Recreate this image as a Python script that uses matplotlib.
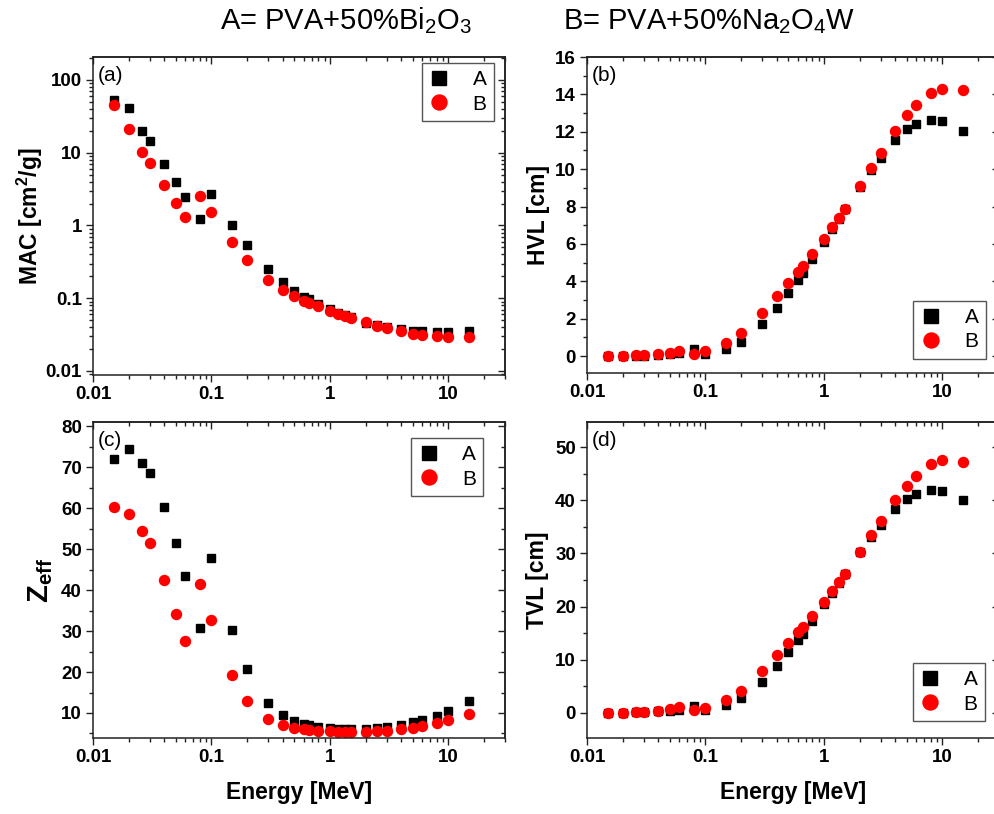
import matplotlib
matplotlib.use("Agg")
import matplotlib.pyplot as plt
from matplotlib.ticker import FuncFormatter, MultipleLocator, LogLocator, NullFormatter

plt.rcParams['font.family'] = ['Liberation Sans', 'DejaVu Sans']
plt.rcParams['mathtext.fontset'] = 'custom'
plt.rcParams['mathtext.rm'] = 'Liberation Sans'
plt.rcParams['mathtext.it'] = 'Liberation Sans:italic'
plt.rcParams['mathtext.bf'] = 'Liberation Sans:bold'

# ---- data ----
energy = [0.015, 0.02, 0.026, 0.03, 0.04, 0.05, 0.06, 0.08, 0.1, 0.15, 0.2, 0.3,
          0.4, 0.5, 0.6, 0.662, 0.8, 1.0, 1.173, 1.332, 1.5, 2.0, 2.5, 3.0, 4.0,
          5.0, 6.0, 8.0, 10.0, 15.0]

mac_A = [53, 40.8, 20.1, 14.5, 6.9, 3.92, 2.49, 1.24, 2.71, 1.02, 0.54, 0.252,
         0.166, 0.127, 0.105, 0.098, 0.084, 0.0705, 0.0634, 0.0589, 0.0547, 0.0462,
         0.0433, 0.0399, 0.0374, 0.0358, 0.0355, 0.0347, 0.0347, 0.0358]
mac_B = [45.3, 21.4, 10.3, 7.29, 3.57, 2.04, 1.32, 2.57, 1.52, 0.598, 0.336, 0.178,
         0.130, 0.107, 0.0925, 0.0869, 0.0775, 0.0674, 0.0607, 0.0575, 0.0540, 0.0467,
         0.0420, 0.0390, 0.0352, 0.0326, 0.0313, 0.0300, 0.0296, 0.0296]

hvl_A = [0.0, 0.0, 0.02, 0.02, 0.05, 0.10, 0.18, 0.36, 0.14, 0.41, 0.78, 1.71,
         2.60, 3.40, 4.08, 4.43, 5.18, 6.11, 6.82, 7.36, 7.87, 9.05, 9.97, 10.61,
         11.56, 12.13, 12.41, 12.64, 12.57, 12.02]
hvl_B = [0.0, 0.0, 0.04, 0.04, 0.09, 0.18, 0.30, 0.14, 0.25, 0.69, 1.25, 2.33,
         3.22, 3.94, 4.51, 4.83, 5.47, 6.29, 6.91, 7.41, 7.89, 9.12, 10.08, 10.85,
         12.06, 12.88, 13.45, 14.05, 14.30, 14.23]

zeff_A = [71.95, 74.4, 71.1, 68.5, 60.3, 51.5, 43.4, 30.7, 47.8, 30.3, 20.65, 12.4,
          9.5, 8.1, 7.4, 7.15, 6.6, 6.3, 6.1, 6.1, 6.0, 6.1, 6.3, 6.5, 7.15, 7.7,
          8.2, 9.35, 10.4, 12.85]
zeff_B = [60.2, 58.5, 54.5, 51.5, 42.5, 34.2, 27.6, 41.5, 32.7, 19.2, 13.0, 8.5,
          7.1, 6.4, 6.1, 5.9, 5.7, 5.5, 5.45, 5.45, 5.4, 5.45, 5.6, 5.7, 6.1, 6.35,
          6.9, 7.6, 8.3, 9.75]

tvl_A = [0.0, 0.0, 0.06, 0.06, 0.2, 0.3, 0.5, 1.26, 0.5, 1.38, 2.7, 5.8, 8.7, 11.4,
         13.6, 14.8, 17.3, 20.4, 22.6, 24.5, 26.2, 30.2, 33.2, 35.3, 38.4, 40.3,
         41.3, 42.0, 41.8, 40.0]
tvl_B = [0.0, 0.0, 0.06, 0.06, 0.3, 0.7, 1.07, 0.5, 0.88, 2.3, 4.15, 7.8, 10.8, 13.1,
         15.1, 16.2, 18.2, 20.9, 22.9, 24.6, 26.2, 30.2, 33.5, 36.1, 40.1, 42.8,
         44.7, 46.9, 47.6, 47.3]

series_labels = ['A', 'B']
panel_labels = ['(a)', '(b)', '(c)', '(d)']
ylabels = ['MAC [cm$^{\\mathbf{2}}$/g]', 'HVL [cm]', '$\\mathbf{Z_{eff}}$', 'TVL [cm]']
xlabel = 'Energy [MeV]'
title_A = 'A= PVA+50%Bi$_2$O$_3$'
title_B = 'B= PVA+50%Na$_2$O$_4$W'

W, H = 994, 814
fig = plt.figure(figsize=(W / 100, H / 100), dpi=100)

def frac(l, t, r, b):
    return [l / W, 1 - b / H, (r - l) / W, (b - t) / H]

positions = [frac(93, 57, 505, 375), frac(587, 57, 999, 373),
             frac(93, 422, 505, 738), frac(587, 422, 999, 738)]
data = [(mac_A, mac_B), (hvl_A, hvl_B), (zeff_A, zeff_B), (tvl_A, tvl_B)]
ylims = [(0.00881, 207), (-0.9, 16.0), (3.9, 81), (-4.8, 54.8)]
ymajor = [None, 2, 10, 10]
yminor = [None, 1, 5, 5]
ylabel_x = [-0.117, -0.090, -0.092, -0.092]
ylabel_fs = [16.5, 16.5, 21, 16.5]
legend_loc = ['upper right', 'lower right', 'upper right', 'lower right']
legend_anchor = [(0.973, 0.981), (0.968, 0.045), (0.947, 0.949), (0.966, 0.054)]

fmt = FuncFormatter(lambda v, p: f'{v:g}')
tick_fs = 13.5

for i in range(4):
    ax = fig.add_axes(positions[i])
    ya, yb = data[i]
    ax.plot(energy, ya, ls='none', marker='s', ms=6.3, color='black', mec='black', label=series_labels[0])
    ax.plot(energy, yb, ls='none', marker='o', ms=7.2, color='#ff0000', mec='#ff0000', label=series_labels[1])
    ax.set_xscale('log')
    ax.set_xlim(0.01, 30)
    if i == 0:
        ax.set_yscale('log')
        ax.yaxis.set_major_locator(LogLocator(base=10, numticks=10))
        ax.yaxis.set_minor_locator(LogLocator(base=10, subs=range(2, 10), numticks=20))
        ax.yaxis.set_major_formatter(fmt)
        ax.yaxis.set_minor_formatter(NullFormatter())
    else:
        ax.yaxis.set_major_locator(MultipleLocator(ymajor[i]))
        ax.yaxis.set_minor_locator(MultipleLocator(yminor[i]))
    ax.set_ylim(*ylims[i])
    ax.xaxis.set_major_locator(LogLocator(base=10, numticks=10))
    ax.xaxis.set_minor_locator(LogLocator(base=10, subs=range(2, 10), numticks=20))
    ax.xaxis.set_major_formatter(fmt)
    ax.xaxis.set_minor_formatter(NullFormatter())

    ax.tick_params(which='both', direction='out', top=False, right=False,
                   labelsize=tick_fs, width=1.0, color='#222222')
    ax.tick_params(which='major', length=5, pad=3)
    ax.tick_params(which='minor', length=3)
    for lab in ax.get_xticklabels() + ax.get_yticklabels():
        lab.set_fontweight('bold')
    for s in ax.spines.values():
        s.set_linewidth(1.1)
        s.set_color('#222222')

    # mirrored inward ticks on top and right
    secx = ax.secondary_xaxis('top')
    secx.xaxis.set_major_locator(LogLocator(base=10, numticks=10))
    secx.xaxis.set_minor_locator(LogLocator(base=10, subs=range(2, 10), numticks=20))
    secx.tick_params(which='both', direction='in', labeltop=False, width=1.0, color='#222222')
    secx.tick_params(which='major', length=5)
    secx.tick_params(which='minor', length=3)
    secx.spines['top'].set_linewidth(1.1)
    secx.spines['top'].set_color('#222222')
    secy = ax.secondary_yaxis('right')
    if i == 0:
        secy.yaxis.set_major_locator(LogLocator(base=10, numticks=10))
        secy.yaxis.set_minor_locator(LogLocator(base=10, subs=range(2, 10), numticks=20))
    else:
        secy.yaxis.set_major_locator(MultipleLocator(ymajor[i]))
        secy.yaxis.set_minor_locator(MultipleLocator(yminor[i]))
    secy.tick_params(which='both', direction='in', labelright=False, width=1.0, color='#222222')
    secy.tick_params(which='major', length=5)
    secy.tick_params(which='minor', length=3)
    secy.spines['right'].set_linewidth(1.1)
    secy.spines['right'].set_color('#222222')

    ax.set_ylabel(ylabels[i], fontsize=ylabel_fs[i], fontweight='bold')
    ax.yaxis.set_label_coords(ylabel_x[i], 0.5)
    if i >= 2:
        ax.set_xlabel(xlabel, fontsize=16.5, fontweight='bold')
        ax.xaxis.set_label_coords(0.5, -0.135)

    ax.text(0.012, 0.943, panel_labels[i], transform=ax.transAxes, fontsize=15,
            ha='left', va='center')

    leg = ax.legend(loc=legend_loc[i], bbox_to_anchor=legend_anchor[i], borderaxespad=0,
                    fontsize=15, markerscale=1.5, handlelength=1.0, handletextpad=1.1,
                    borderpad=0.35, labelspacing=0.25, fancybox=False, framealpha=1,
                    edgecolor='#555555')
    leg.get_frame().set_linewidth(1.0)

fig.text(345.5 / W, 1 - 29 / H, title_A, fontsize=21, ha='center', va='baseline')
fig.text(709.5 / W, 1 - 29 / H, title_B, fontsize=21, ha='center', va='baseline')

fig.savefig('out.png', dpi=100)
